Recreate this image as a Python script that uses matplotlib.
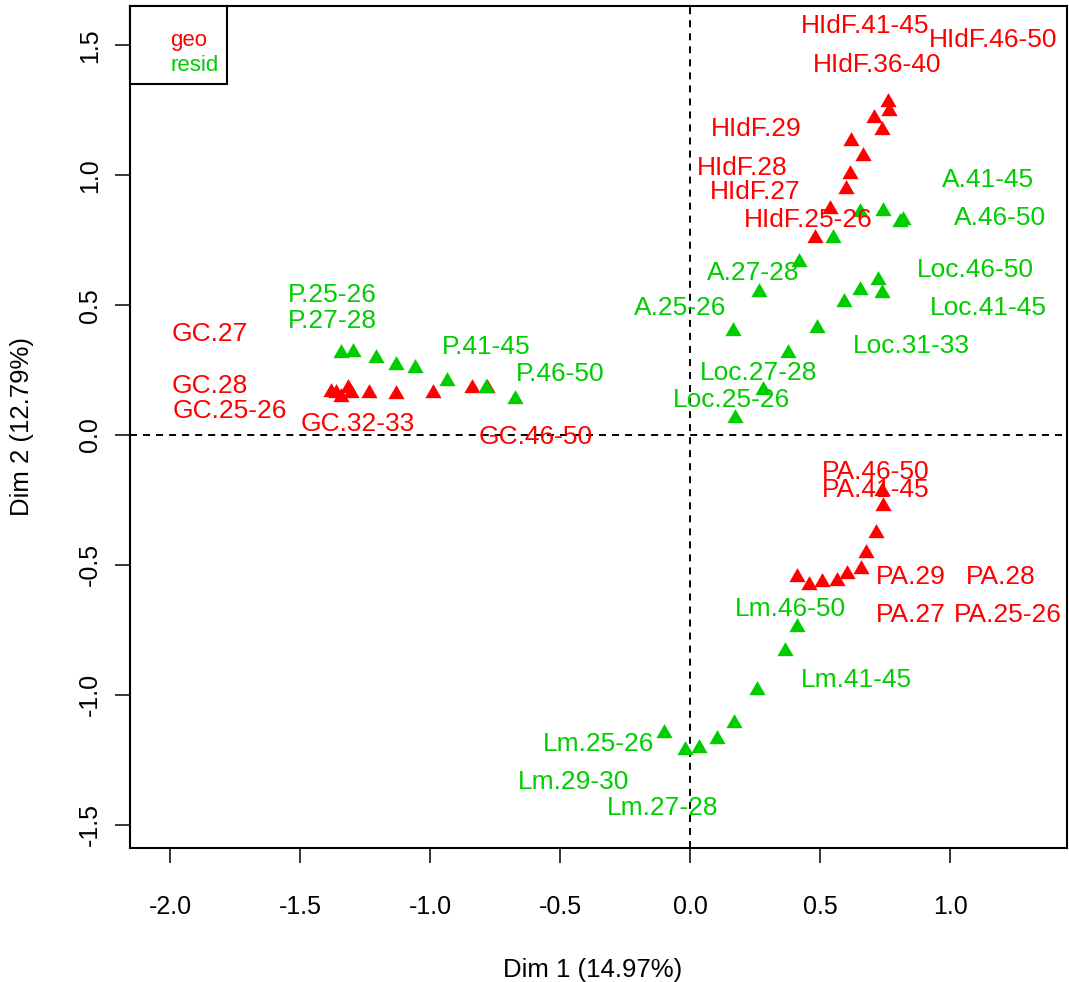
import numpy as np
import matplotlib
matplotlib.use("Agg")
import matplotlib.pyplot as plt
from matplotlib.lines import Line2D

plt.rcParams['font.family'] = ['Liberation Sans', 'DejaVu Sans']

# coordinates of the partial points (geo = red, resid = green)
gc_x = [-1.381, -1.362, -1.342, -1.315, -1.304, -1.235, -1.131, -0.988, -0.838, -0.781]
gc_y = [0.166, 0.162, 0.146, 0.181, 0.162, 0.162, 0.158, 0.162, 0.181, 0.181]
hidf_x = [0.762, 0.765, 0.708, 0.738, 0.619, 0.665, 0.615, 0.600, 0.538, 0.481]
hidf_y = [1.282, 1.248, 1.221, 1.175, 1.132, 1.074, 1.005, 0.947, 0.870, 0.759]
pa_x = [0.738, 0.742, 0.715, 0.677, 0.658, 0.604, 0.565, 0.508, 0.458, 0.412]
pa_y = [-0.216, -0.273, -0.377, -0.454, -0.516, -0.535, -0.562, -0.566, -0.578, -0.547]

p_x = [-1.342, -1.296, -1.208, -1.131, -1.058, -0.935, -0.785, -0.673]
p_y = [0.316, 0.320, 0.296, 0.270, 0.258, 0.208, 0.181, 0.139]
a_x = [0.654, 0.742, 0.808, 0.819, 0.550, 0.419, 0.265, 0.165]
a_y = [0.859, 0.863, 0.820, 0.828, 0.759, 0.666, 0.551, 0.400]
loc_x = [0.723, 0.654, 0.738, 0.592, 0.488, 0.377, 0.281, 0.173]
loc_y = [0.597, 0.558, 0.547, 0.512, 0.412, 0.316, 0.173, 0.065]
lm_x = [0.412, 0.365, 0.258, 0.169, 0.104, 0.035, -0.019, -0.100]
lm_y = [-0.739, -0.832, -0.982, -1.109, -1.171, -1.205, -1.213, -1.147]

# labels (text centre positions)
geo_labels = ["HIdF.41-45", "HIdF.46-50", "HIdF.36-40", "HIdF.29", "HIdF.28",
              "HIdF.27", "HIdF.25-26", "GC.27", "GC.28", "GC.25-26", "GC.32-33",
              "GC.46-50", "PA.46-50", "PA.41-45", "PA.29", "PA.28", "PA.27", "PA.25-26"]
geo_lab_x = [0.673, 1.165, 0.721, 0.254, 0.200, 0.250, 0.454, -1.848, -1.848, -1.771,
             -1.279, -0.592, 0.715, 0.715, 0.850, 1.196, 0.850, 1.223]
geo_lab_y = [1.583, 1.531, 1.434, 1.186, 1.036, 0.945, 0.837, 0.400, 0.198, 0.101,
             0.051, 0.000, -0.131, -0.202, -0.539, -0.539, -0.685, -0.685]

resid_labels = ["A.41-45", "A.46-50", "A.27-28", "A.25-26", "Loc.46-50", "Loc.41-45",
                "Loc.31-33", "Loc.27-28", "Loc.25-26", "P.25-26", "P.27-28", "P.41-45",
                "P.46-50", "Lm.46-50", "Lm.41-45", "Lm.25-26", "Lm.29-30", "Lm.27-28"]
resid_lab_x = [1.146, 1.192, 0.242, -0.038, 1.096, 1.146, 0.850, 0.265, 0.158, -1.377,
               -1.377, -0.785, -0.500, 0.385, 0.642, -0.350, -0.446, -0.104]
resid_lab_y = [0.990, 0.847, 0.632, 0.497, 0.643, 0.497, 0.354, 0.250, 0.146, 0.547,
               0.447, 0.347, 0.246, -0.662, -0.932, -1.182, -1.328, -1.425]

red = "#FF0000"
green = "#00CD00"

fig = plt.figure(figsize=(10.69, 9.82), dpi=100)
ax = fig.add_axes([130/1069, 134/982, 937/1069, 842/982])

# equilateral triangle like R pch 17
tri = [(-1, -0.577), (1, -0.577), (0, 1.155), (-1, -0.577)]

ax.axhline(0, color="black", lw=1.4, dashes=(3.6, 3.1), zorder=1)
ax.axvline(0, color="black", lw=1.4, dashes=(3.6, 3.1), zorder=1)

for xs, ys in [(gc_x, gc_y), (hidf_x, hidf_y), (pa_x, pa_y)]:
    ax.plot(xs, ys, ls="none", marker=tri, ms=13.5, mew=0, color=red, zorder=2)
for xs, ys in [(p_x, p_y), (a_x, a_y), (loc_x, loc_y), (lm_x, lm_y)]:
    ax.plot(xs, ys, ls="none", marker=tri, ms=13.5, mew=0, color=green, zorder=2)

for lab, x, y in zip(geo_labels, geo_lab_x, geo_lab_y):
    ax.annotate(lab, (x, y), xytext=(0, -6.8), textcoords="offset points",
                ha="center", va="baseline", fontsize=19, color=red, zorder=3)
for lab, x, y in zip(resid_labels, resid_lab_x, resid_lab_y):
    ax.annotate(lab, (x, y), xytext=(0, -6.8), textcoords="offset points",
                ha="center", va="baseline", fontsize=19, color=green, zorder=3)

ax.set_xlim(-2.154, 1.450)
ax.set_ylim(-1.590, 1.652)
ax.set_xticks([-2.0, -1.5, -1.0, -0.5, 0.0, 0.5, 1.0])
ax.set_yticks([-1.5, -1.0, -0.5, 0.0, 0.5, 1.0, 1.5])
ax.set_xticklabels(["-2.0", "-1.5", "-1.0", "-0.5", "0.0", "0.5", "1.0"])
ax.set_yticklabels(["-1.5", "-1.0", "-0.5", "0.0", "0.5", "1.0", "1.5"])
ax.tick_params(axis="both", length=11, width=1.1, labelsize=18, color="black")
ax.tick_params(axis="x", pad=23)
ax.tick_params(axis="y", pad=9, labelrotation=90)
for lbl in ax.get_yticklabels():
    lbl.set_va("center")
for sp in ax.spines.values():
    sp.set_linewidth(1.5)

ax.set_xlabel("Dim 1 (14.97%)", fontsize=18.5)
ax.set_ylabel("Dim 2 (12.79%)", fontsize=18.5)
ax.xaxis.set_label_coords(0.494, -0.145)
ax.xaxis.label.set_va("center")
ax.yaxis.set_label_coords(-0.115, 0.5)
ax.yaxis.label.set_va("center")

handles = [Line2D([], [], ls="none"), Line2D([], [], ls="none")]
leg = ax.legend(handles, ["geo", "resid"], loc="upper left", borderaxespad=0,
                fontsize=16, handlelength=1.0, handletextpad=0.4, borderpad=0.4,
                labelspacing=0.15, title=" ", title_fontsize=9, fancybox=False,
                framealpha=1, edgecolor="black")
leg.get_frame().set_linewidth(1.5)
leg.get_texts()[0].set_color(red)
leg.get_texts()[1].set_color(green)

fig.savefig("out.png", dpi=100)
